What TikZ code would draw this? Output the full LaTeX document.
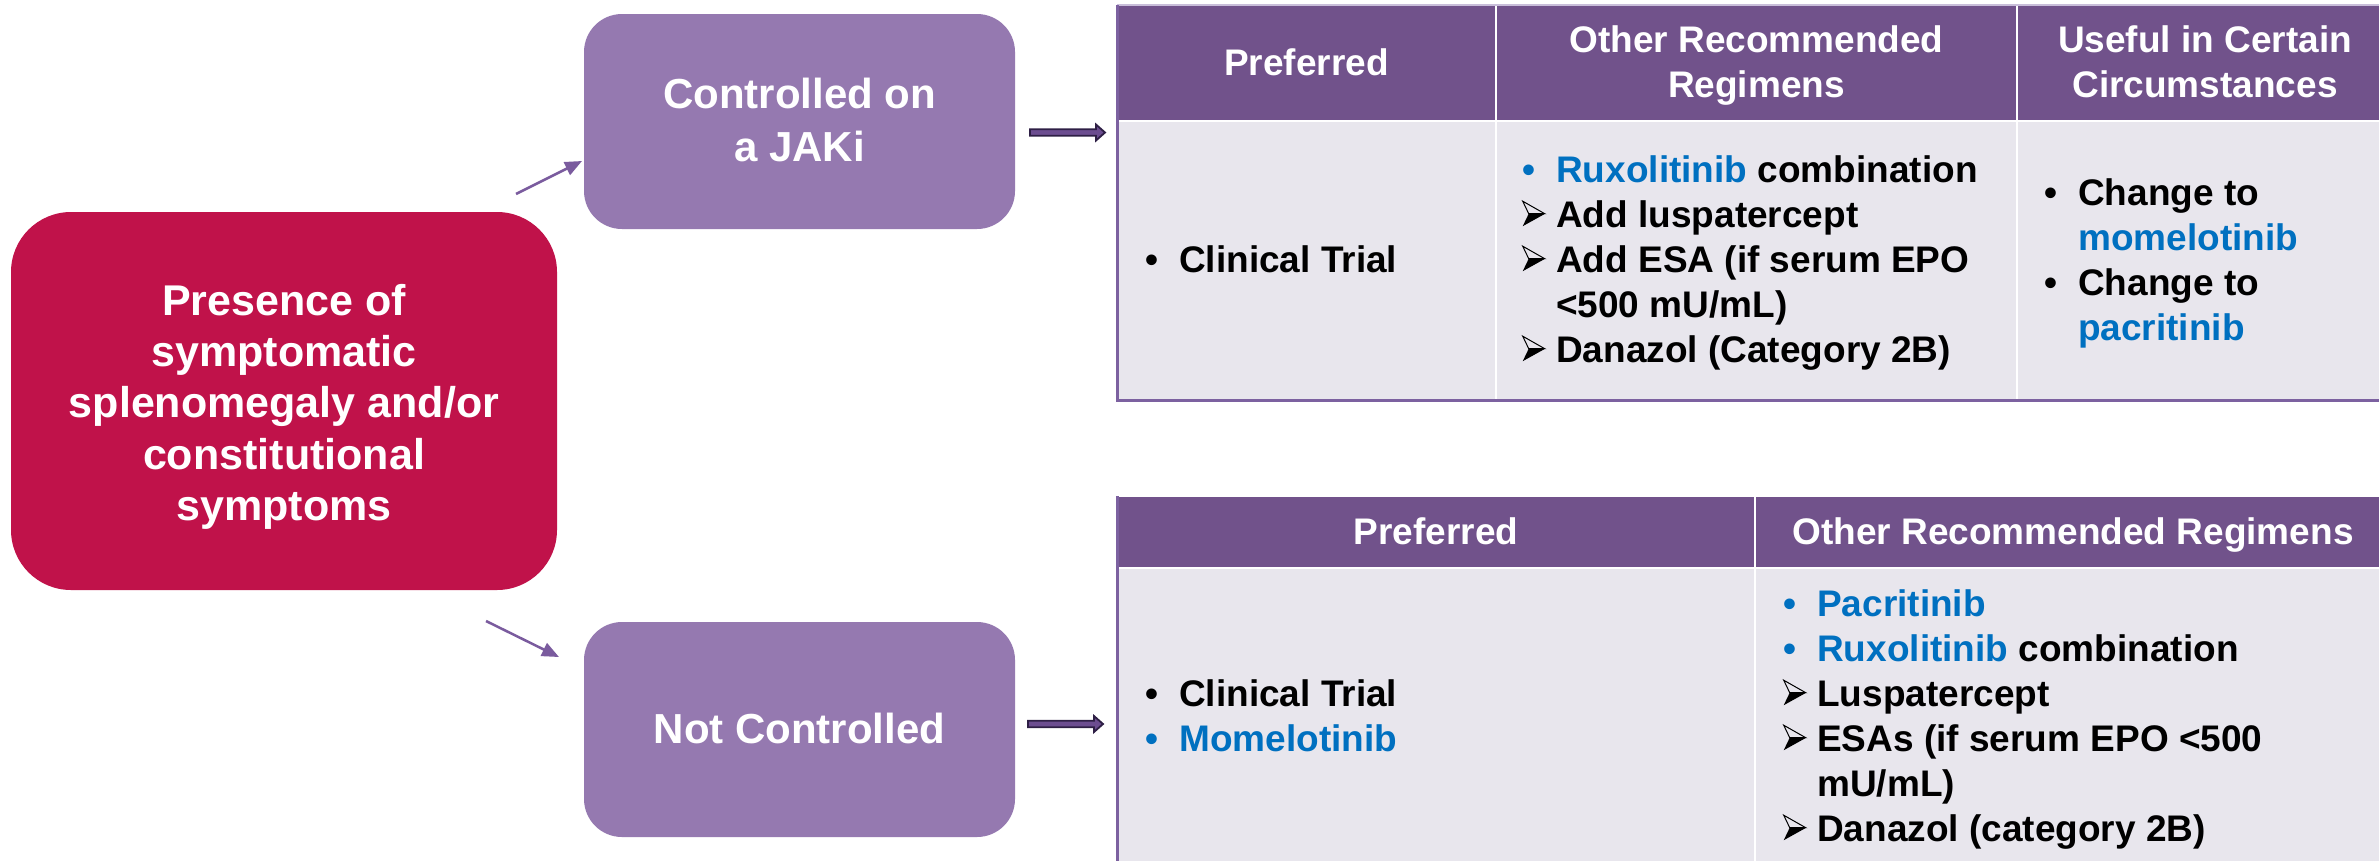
\documentclass[tikz,border=0pt]{standalone}
\usepackage{fontspec}
\setmainfont{Liberation Sans}
\usetikzlibrary{arrows.meta,calc}
\definecolor{ruby}{HTML}{C0124A}
\definecolor{boxpurple}{HTML}{9579B0}
\definecolor{hdrpurple}{HTML}{71528B}
\definecolor{bodygray}{HTML}{E8E6ED}
\definecolor{linkblue}{HTML}{0070C0}
\definecolor{arrpurple}{HTML}{7A5B9E}
\definecolor{fatdark}{HTML}{2E1F45}
\definecolor{fatfill}{HTML}{6C4D90}
\definecolor{borderpurple}{HTML}{7C61A0}
\definecolor{toplav}{HTML}{C9BEDA}
\renewcommand{\arraystretch}{0}
\newcommand\bstrut{\rule[-10.3pt]{0pt}{45pt}}
\newcommand\rstrut{\rule[-8.3pt]{0pt}{51pt}}
\newcommand\pstrut{\rule[-12.6pt]{0pt}{53pt}}
\newsavebox{\arwbox}
\sbox{\arwbox}{\tikz[x=1pt,y=1pt,line join=miter]{%
  \draw[line width=1pt] (0,25) -- (22,12.5) -- (6,12.5) -- cycle;
  \fill (6,12.5) -- (22.5,12.5) -- (0,0) -- cycle;}}
\newcommand\blt[1][black]{\makebox[34pt][l]{\textcolor{#1}{\textbullet}}}
\newcommand\arw{\makebox[34pt][l]{\raisebox{1.5pt}{\usebox{\arwbox}}}}
\newcommand\ind{\makebox[34pt][l]{}}
\newcommand\bl[1]{\textcolor{linkblue}{#1}}
\tikzset{
  redbox/.style={fill=ruby, rounded corners=60pt, minimum width=546pt, minimum height=378pt,
    inner sep=0pt, text=white, font=\fontsize{43}{51}\selectfont\bfseries},
  purplebox/.style={fill=boxpurple, rounded corners=38pt, minimum width=431pt, minimum height=215pt,
    inner sep=0pt, text=white, font=\fontsize{42}{53}\selectfont\bfseries},
  hdrcell/.style={fill=hdrpurple, draw=white, line width=2pt, inner sep=0pt, outer sep=0pt,
    text=white, font=\fontsize{37}{45}\selectfont\bfseries},
  bodycell/.style={fill=bodygray, draw=white, line width=2pt, inner sep=0pt, outer sep=0pt},
  celltext/.style={anchor=west, inner sep=0pt, text=black, font=\fontsize{37}{45}\selectfont\bfseries},
  diagarrow/.style={draw=arrpurple, line width=2.5pt, -{Triangle[length=17pt,width=14pt]}},
  fatarrow/.style={fill=fatfill, draw=fatdark, line width=1.8pt, line join=miter},
  tblborder/.style={draw=borderpurple, line width=3pt},
  topedge/.style={draw=toplav, line width=1.5pt},
}
\begin{document}
\begin{tikzpicture}[x=1pt,y=-1pt]
\useasboundingbox (0,0) rectangle (2379,860);
\clip (0,0) rectangle (2379,860);

% left boxes
\node[redbox] (pres) at (284,401) {\begin{tabular}{@{}c@{}}\rstrut Presence of\\\rstrut symptomatic\\\rstrut splenomegaly and/or\\\rstrut constitutional\\\rstrut symptoms\end{tabular}};
\node[purplebox] (ctl) at (799.5,121.5) {\begin{tabular}{@{}c@{}}\pstrut Controlled on\\\pstrut a JAKi\end{tabular}};
\node[purplebox] (nctl) at (799.5,729.5) {\begin{tabular}{@{}c@{}}\pstrut Not Controlled\end{tabular}};

% diagonal arrows
\coordinate (d1s) at (516,194);
\coordinate (d1e) at (582,161);
\draw[diagarrow] (d1s) -- (d1e);
\coordinate (d2s) at (486,621);
\coordinate (d2e) at (559,657);
\draw[diagarrow] (d2s) -- (d2e);

% fat arrows
\coordinate (f1s) at (1030,132.5);
\draw[fatarrow] (f1s) ++(0,-3.3) -- ++(66,0) -- ++(0,-4.7) -- ++(9,8) -- ++(-9,8) -- ++(0,-4.7) -- ++(-66,0) -- cycle;
\coordinate (f2s) at (1028,724);
\draw[fatarrow] (f2s) ++(0,-3.3) -- ++(66,0) -- ++(0,-4.7) -- ++(9,8) -- ++(-9,8) -- ++(0,-4.7) -- ++(-66,0) -- cycle;

% top table
\node[hdrcell, minimum width=379pt, minimum height=116pt] (t1h1) at (1306.5,63) {\begin{tabular}{@{}c@{}}\bstrut Preferred\end{tabular}};
\node[hdrcell, minimum width=521pt, minimum height=116pt] (t1h2) at (1756.5,63) {\begin{tabular}{@{}c@{}}\bstrut Other Recommended\\\bstrut Regimens\end{tabular}};
\node[hdrcell, minimum width=376pt, minimum height=116pt] (t1h3) at (2205,63) {\begin{tabular}{@{}c@{}}\bstrut Useful in Certain\\\bstrut Circumstances\end{tabular}};
\node[bodycell, minimum width=379pt, minimum height=279pt] (t1b1) at (1306.5,260.5) {};
\node[bodycell, minimum width=521pt, minimum height=279pt] (t1b2) at (1756.5,260.5) {};
\node[bodycell, minimum width=376pt, minimum height=279pt] (t1b3) at (2205,260.5) {};
\draw[topedge] (t1h1.north west) -- (t1h3.north east);
\draw[tblborder] (t1h1.north west) -- (t1b1.south west) -- (t1b3.south east);

\node[celltext] (t1b1t) at ([xshift=28pt]t1b1.west) {\begin{tabular}{@{}l@{}}\bstrut\blt Clinical Trial\end{tabular}};
\node[celltext] (t1b2t) at ([xshift=26pt]t1b2.west) {\begin{tabular}{@{}l@{}}
\bstrut\blt[linkblue]\bl{Ruxolitinib} combination\\
\bstrut\arw Add luspatercept\\
\bstrut\arw Add ESA (if serum EPO\\
\bstrut\ind <500 mU/mL)\\
\bstrut\arw Danazol (Category 2B)\end{tabular}};
\node[celltext] (t1b3t) at ([xshift=27pt]t1b3.west) {\begin{tabular}{@{}l@{}}
\bstrut\blt Change to\\
\bstrut\ind\bl{momelotinib}\\
\bstrut\blt Change to\\
\bstrut\ind\bl{pacritinib}\end{tabular}};

% bottom table
\node[hdrcell, minimum width=638pt, minimum height=72pt] (t2h1) at (1436,532) {\begin{tabular}{@{}c@{}}\bstrut Preferred\end{tabular}};
\node[hdrcell, minimum width=636pt, minimum height=72pt] (t2h2) at (2073,532) {\begin{tabular}{@{}c@{}}\bstrut Other Recommended Regimens\end{tabular}};
\node[bodycell, minimum width=638pt, minimum height=298pt] (t2b1) at (1436,717) {};
\node[bodycell, minimum width=636pt, minimum height=298pt] (t2b2) at (2073,717) {};
\draw[tblborder] (t2h1.north west) -- (t2b1.south west);

\node[celltext] (t2b1t) at ([xshift=28pt]t2b1.west) {\begin{tabular}{@{}l@{}}
\bstrut\blt Clinical Trial\\
\bstrut\blt[linkblue]\bl{Momelotinib}\end{tabular}};
\node[celltext] (t2b2t) at ([xshift=28pt]t2b2.west) {\begin{tabular}{@{}l@{}}
\bstrut\blt[linkblue]\bl{Pacritinib}\\
\bstrut\blt[linkblue]\bl{Ruxolitinib} combination\\
\bstrut\arw Luspatercept\\
\bstrut\arw ESAs (if serum EPO <500\\
\bstrut\ind mU/mL)\\
\bstrut\arw Danazol (category 2B)\end{tabular}};
\end{tikzpicture}
\end{document}
